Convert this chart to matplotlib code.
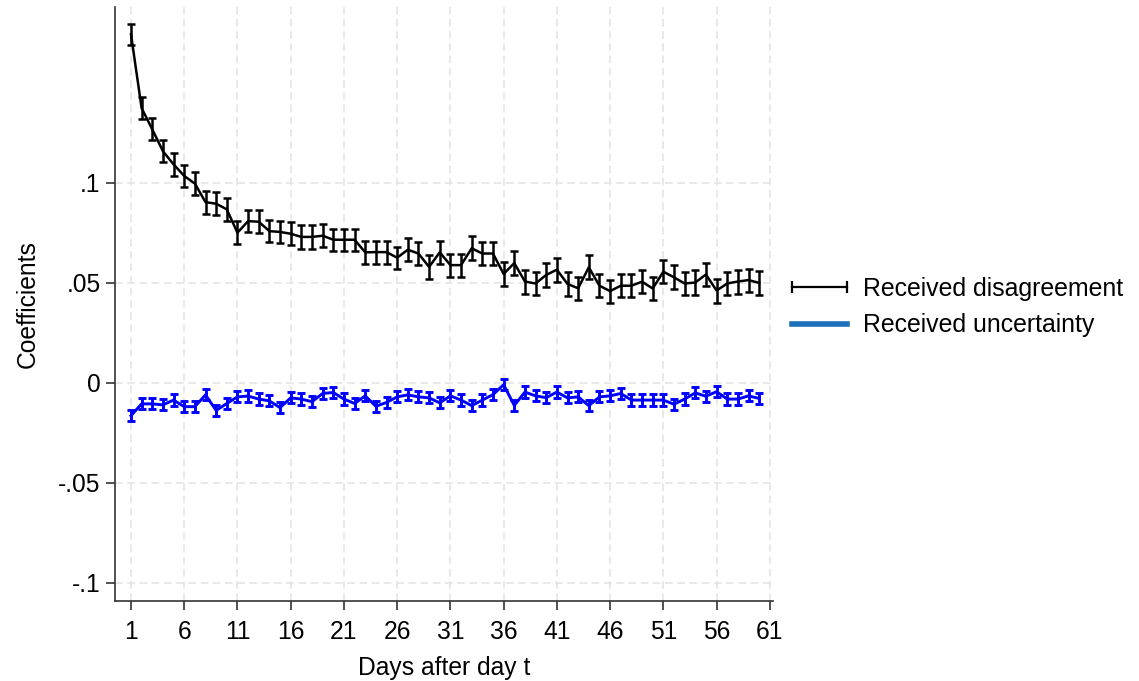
import matplotlib
matplotlib.use("Agg")
import matplotlib.pyplot as plt
from matplotlib.lines import Line2D
import numpy as np

plt.rcParams['font.family'] = ['Liberation Sans', 'DejaVu Sans']

days = list(range(1, 61))

disagreement = [0.1743, 0.1373, 0.1267, 0.1158, 0.1092, 0.1034, 0.0996, 0.0903, 0.0895, 0.0867,
                0.0750, 0.0808, 0.0805, 0.0758, 0.0754, 0.0745, 0.0729, 0.0729, 0.0735, 0.0715,
                0.0715, 0.0715, 0.0652, 0.0653, 0.0653, 0.0625, 0.0665, 0.0646, 0.0579, 0.0652,
                0.0588, 0.0588, 0.0672, 0.0646, 0.0646, 0.0544, 0.0598, 0.0506, 0.0496, 0.0539,
                0.0565, 0.0494, 0.0472, 0.0577, 0.0485, 0.0458, 0.0485, 0.0485, 0.0505, 0.0471,
                0.0555, 0.0527, 0.0496, 0.0501, 0.0541, 0.0461, 0.0496, 0.0506, 0.0513, 0.0499]
disagreement_ci = [0.0052, 0.0056, 0.0055, 0.0056, 0.0057, 0.0057, 0.0058, 0.0058, 0.0058, 0.0057,
                   0.0057, 0.0055, 0.0057, 0.0055, 0.0055, 0.0058, 0.0058, 0.0058, 0.0057, 0.0056,
                   0.0056, 0.0056, 0.0056, 0.0058, 0.0058, 0.0055, 0.0057, 0.0058, 0.0058, 0.0057,
                   0.0058, 0.0058, 0.0060, 0.0058, 0.0058, 0.0060, 0.0060, 0.0060, 0.0058, 0.0060,
                   0.0060, 0.0060, 0.0058, 0.0060, 0.0058, 0.0058, 0.0058, 0.0058, 0.0058, 0.0058,
                   0.0058, 0.0060, 0.0058, 0.0062, 0.0058, 0.0060, 0.0058, 0.0060, 0.0058, 0.0060]

uncertainty = [-0.0165, -0.0106, -0.0106, -0.0111, -0.0087, -0.0120, -0.0120, -0.0061, -0.0139, -0.0104,
               -0.0071, -0.0067, -0.0082, -0.0091, -0.0125, -0.0076, -0.0082, -0.0095, -0.0054, -0.0049,
               -0.0082, -0.0104, -0.0066, -0.0118, -0.0099, -0.0071, -0.0061, -0.0071, -0.0076, -0.0101,
               -0.0066, -0.0087, -0.0115, -0.0087, -0.0060, -0.0010, -0.0114, -0.0047, -0.0066, -0.0075,
               -0.0047, -0.0076, -0.0071, -0.0115, -0.0071, -0.0066, -0.0054, -0.0087, -0.0087, -0.0087,
               -0.0087, -0.0108, -0.0082, -0.0051, -0.0068, -0.0045, -0.0082, -0.0082, -0.0066, -0.0079]
uncertainty_ci = [0.0028] * 60

xticks = list(range(1, 62, 5))
yticks = [-0.1, -0.05, 0, 0.05, 0.1]
ytick_labels = ['-.1', '-.05', '0', '.05', '.1']

fig = plt.figure(figsize=(11.39, 6.81), dpi=100)
ax = fig.add_axes([115 / 1139, 1 - 601 / 681, (773 - 115) / 1139, (601 - 7) / 681])

ax.errorbar(days, disagreement, yerr=disagreement_ci, color='black', lw=1.8,
            elinewidth=1.8, capsize=2.6, capthick=1.8, zorder=3)
ax.errorbar(days, uncertainty, yerr=uncertainty_ci, color='#0000ff', lw=2.1,
            elinewidth=2.1, capsize=2.6, capthick=2.1, zorder=3)

ax.set_xlim(-0.5, 61.3)
ax.set_ylim(-0.1092, 0.1879)
ax.set_xticks(xticks)
ax.set_xticklabels([str(t) for t in xticks])
ax.set_yticks(yticks)
ax.set_yticklabels(ytick_labels)
ax.grid(True, color='#e3e3e3', linestyle=(0, (5, 3)), lw=1.1, zorder=0)

for s in ['top', 'right']:
    ax.spines[s].set_visible(False)
for s in ['left', 'bottom']:
    ax.spines[s].set_color('#333333')
    ax.spines[s].set_linewidth(1.2)
ax.tick_params(axis='both', length=6.5, width=1.2, color='#333333', labelsize=17.7)
ax.tick_params(axis='x', pad=7)
ax.tick_params(axis='y', pad=4)

ax.set_xlabel('Days after day t', fontsize=17.7, labelpad=9)
ax.set_ylabel('Coefficients', fontsize=17.7, labelpad=13)

h1 = Line2D([0], [0], color='black', lw=1.6, marker='|', markersize=9, markeredgewidth=1.6)
h2 = Line2D([0], [0], color='#1a6fb8', lw=4)
fig.legend([h1, h2], ['Received disagreement', 'Received uncertainty'],
           loc='upper left', bbox_to_anchor=(785 / 1139, 1 - 277 / 681),
           frameon=False, fontsize=17.9, numpoints=2, handlelength=2.8,
           handletextpad=0.35, labelspacing=0.5, borderpad=0, borderaxespad=0)

fig.savefig('out.png', dpi=100)
